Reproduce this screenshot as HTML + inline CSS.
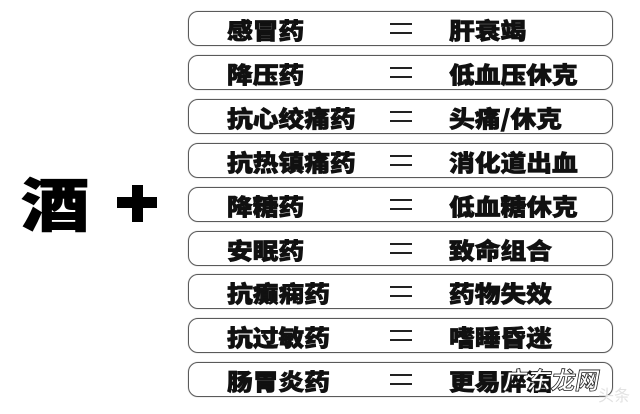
<!DOCTYPE html>
<html><head><meta charset="utf-8">
<style>
html,body{margin:0;padding:0;background:#fff;}
body{width:640px;height:414px;position:relative;overflow:hidden;font-family:"Liberation Sans","Noto Sans CJK SC","WenQuanYi Zen Hei",sans-serif;}
.box{position:absolute;left:188px;width:423px;height:33px;border:1px solid #5a5a5a;border-radius:10px;box-shadow:0 0 1px #999;}
.t{position:absolute;top:0;height:35px;line-height:35px;font-size:23px;font-weight:900;color:#111;white-space:nowrap;transform:scaleX(1.12);transform-origin:0 50%;font-family:"Noto Sans CJK SC","WenQuanYi Zen Hei",sans-serif;-webkit-text-stroke:0.7px #111;}
.l{left:38px;}
.r{left:260px;}
.eq{position:absolute;left:201px;width:22px;height:2px;background:#222;}
.big{position:absolute;left:21px;top:172px;font-size:58px;line-height:58px;font-weight:900;color:#000;transform:scaleX(1.18);transform-origin:0 0;font-family:"Noto Sans CJK SC","WenQuanYi Zen Hei",sans-serif;-webkit-text-stroke:1px #000;}
.ph{position:absolute;left:117px;top:197px;width:40px;height:11px;background:#000;}
.pv{position:absolute;left:132px;top:185px;width:11px;height:37px;background:#000;}
.wm{position:absolute;left:504px;top:364px;font-size:24px;line-height:30px;font-weight:700;color:#fff;-webkit-text-stroke:0.8px #222;transform:skewX(-10deg);font-family:"Noto Sans CJK SC","WenQuanYi Zen Hei",sans-serif;}
.wm2{position:absolute;left:598px;top:382px;font-size:16px;color:#e2e2e2;font-family:"Noto Sans CJK SC",sans-serif;}
</style></head><body>
<div class="big">酒</div>
<div class="ph"></div><div class="pv"></div>

<div class="box" style="top:11px"><div class="t l">感冒药</div><div class="eq" style="top:11px"></div><div class="eq" style="top:20px"></div><div class="t r">肝衰竭</div></div>
<div class="box" style="top:55px"><div class="t l">降压药</div><div class="eq" style="top:11px"></div><div class="eq" style="top:20px"></div><div class="t r">低血压休克</div></div>
<div class="box" style="top:99px"><div class="t l">抗心绞痛药</div><div class="eq" style="top:11px"></div><div class="eq" style="top:20px"></div><div class="t r">头痛/休克</div></div>
<div class="box" style="top:143px"><div class="t l">抗热镇痛药</div><div class="eq" style="top:11px"></div><div class="eq" style="top:20px"></div><div class="t r">消化道出血</div></div>
<div class="box" style="top:187px"><div class="t l">降糖药</div><div class="eq" style="top:11px"></div><div class="eq" style="top:20px"></div><div class="t r">低血糖休克</div></div>
<div class="box" style="top:231px"><div class="t l">安眠药</div><div class="eq" style="top:11px"></div><div class="eq" style="top:20px"></div><div class="t r">致命组合</div></div>
<div class="box" style="top:274px"><div class="t l">抗癫痫药</div><div class="eq" style="top:11px"></div><div class="eq" style="top:20px"></div><div class="t r">药物失效</div></div>
<div class="box" style="top:318px"><div class="t l">抗过敏药</div><div class="eq" style="top:11px"></div><div class="eq" style="top:20px"></div><div class="t r">嗜睡昏迷</div></div>
<div class="box" style="top:362px"><div class="t l">肠胃炎药</div><div class="eq" style="top:11px"></div><div class="eq" style="top:20px"></div><div class="t r">更易醉酒</div></div>

<div class="wm2">头条</div>
<div class="wm">广东龙网</div>
</body></html>
